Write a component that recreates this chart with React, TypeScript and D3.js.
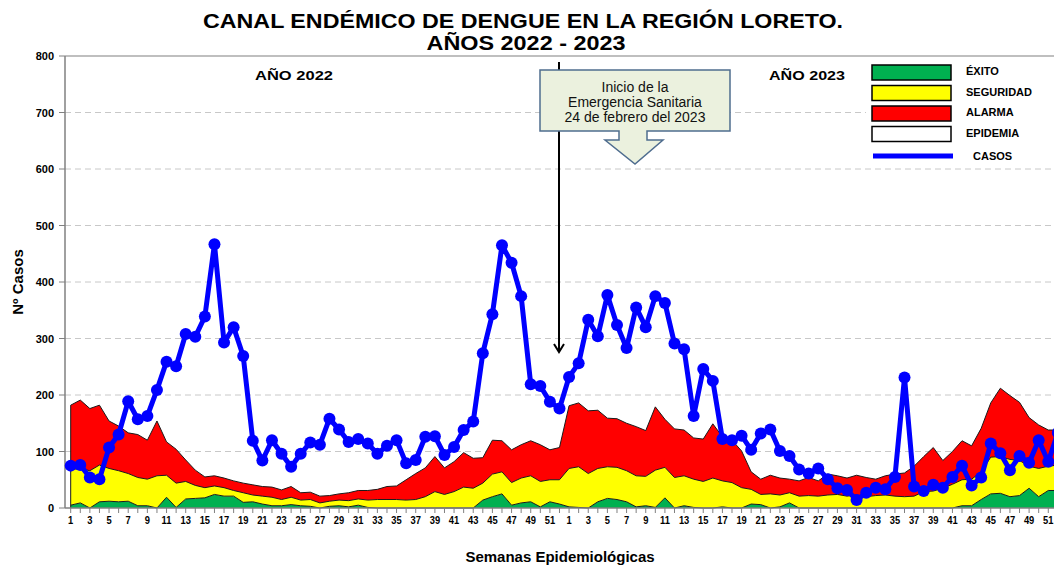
import React from "react";
import * as d3 from "d3";

const weekLabels2022 = d3.range(1, 53);
const weekLabels2023 = d3.range(1, 53);

const casos2022 = [75,76,54,51,107,130,189,157,163,209,259,251,308,303,339,467,293,320,269,119,84,120,96,73,96,116,112,158,139,117,122,114,96,110,120,79,85,126,127,94,108,138,153,274,343,465,434,375,219,216,188,176];
const casos2023 = [232,256,333,304,377,324,283,355,320,375,363,291,281,163,246,225,122,120,128,103,132,139,101,92,68,61,70,51,35,32,14,27,36,33,55,231,38,30,41,36,55,75,40,54,114,97,67,92,80,120,82,133];

const exito2022 = [5,9,0,11,12,11,12,4,4,0,19,1,16,17,18,24,21,21,10,11,7,4,4,6,4,3,0,3,4,2,5,1,0,0,0,0,0,0,0,0,0,0,0,14,20,25,5,9,11,2,11,7];
const exito2023 = [2,1,0,11,17,15,11,2,4,1,18,0,4,1,0,0,2,0,0,7,6,0,2,9,0,0,0,0,0,0,0,0,0,0,0,0,0,0,0,0,0,4,4,15,25,26,20,22,35,20,31,31];

const seguridad2022 = [68,70,66,76,70,66,61,54,51,57,58,44,47,40,36,39,36,31,27,23,21,19,15,19,14,15,9,12,14,13,16,14,15,15,15,14,15,20,29,24,29,37,35,44,60,64,45,53,57,47,50,50];
const seguridad2023 = [70,73,61,70,73,72,66,57,56,67,72,54,57,51,47,53,48,45,36,33,24,25,23,27,21,22,21,23,24,21,23,20,22,23,21,20,21,29,30,35,42,50,51,64,90,91,86,84,74,70,74,76];

const alarma2022 = [182,191,176,182,154,145,133,130,120,154,117,104,85,67,55,57,53,48,44,41,38,37,32,38,27,28,21,22,25,27,31,31,33,38,39,50,61,71,91,71,82,98,88,89,120,119,103,112,119,112,103,107];
const alarma2023 = [181,186,172,173,159,158,150,144,137,179,157,140,138,124,122,149,126,120,101,64,51,58,53,51,48,54,48,60,57,53,58,54,51,57,60,62,74,91,107,84,100,119,110,141,186,212,199,187,160,147,138,138];

const yTicks = [0, 100, 200, 300, 400, 500, 600, 700, 800];
const legendItems = [
  { label: "ÉXITO", color: "#00B050" },
  { label: "SEGURIDAD", color: "#FFFF00" },
  { label: "ALARMA", color: "#FF0000" },
  { label: "EPIDEMIA", color: "#FFFFFF" },
];
const calloutLines = ["Inicio de la", "Emergencia Sanitaria", "24 de febrero del 2023"];

const labels = [...weekLabels2022, ...weekLabels2023];
const casos = [...casos2022, ...casos2023];
const exito = [...exito2022, ...exito2023];
const seguridad = [...seguridad2022, ...seguridad2023];
const alarma = [...alarma2022, ...alarma2023];

const W = 1054;
const H = 567;
const FONT = "Arial, 'Liberation Sans', Helvetica, sans-serif";

export default function App() {
  const n = labels.length;
  const x = d3.scaleLinear().domain([0, n - 1]).range([70.7, 70.7 + (n - 1) * 9.584]);
  const y = d3.scaleLinear().domain([0, 800]).range([508, 56]);
  const idx = d3.range(n);

  const band = (lo: (i: number) => number, hi: (i: number) => number) =>
    d3.area<number>().x((i) => x(i)).y0((i) => y(lo(i))).y1((i) => y(hi(i)))(idx) || "";
  const topLine = (hi: (i: number) => number) =>
    d3.line<number>().x((i) => x(i)).y((i) => y(hi(i)))(idx) || "";
  const casosLine = d3.line<number>().x((i) => x(i)).y((i) => y(casos[i]))(idx) || "";

  const arrowX = 559;

  return (
    <svg width={W} height={H} style={{ position: "absolute", left: 0, top: 0, background: "#fff" }} fontFamily={FONT}>
      <rect x={0} y={0} width={W} height={H} fill="#fff" />
      {/* title */}
      <text x={523} y={28} textAnchor="middle" fontSize={21} fontWeight="bold" textLength={640} lengthAdjust="spacingAndGlyphs">
        CANAL ENDÉMICO DE DENGUE EN LA REGIÓN LORETO.
      </text>
      <text x={526} y={50} textAnchor="middle" fontSize={21} fontWeight="bold" textLength={199} lengthAdjust="spacingAndGlyphs">
        AÑOS 2022 - 2023
      </text>

      {/* grid */}
      {yTicks.filter((t) => t > 0 && t < 800).map((t) => (
        <line key={t} x1={65} x2={W} y1={y(t)} y2={y(t)} stroke="#c8c8c8" strokeWidth={1} strokeDasharray="6,4" />
      ))}
      <line x1={65} x2={W} y1={y(800)} y2={y(800)} stroke="#808080" strokeWidth={1.2} />

      {/* bands */}
      <path d={band(() => 0, (i) => exito[i])} fill="#00B050" />
      <path d={band((i) => exito[i], (i) => seguridad[i])} fill="#FFFF00" />
      <path d={band((i) => seguridad[i], (i) => alarma[i])} fill="#FF0000" />
      <path d={topLine((i) => exito[i])} fill="none" stroke="#1a1a1a" strokeWidth={1} />
      <path d={topLine((i) => seguridad[i])} fill="none" stroke="#1a1a1a" strokeWidth={1} />
      <path d={topLine((i) => alarma[i])} fill="none" stroke="#1a1a1a" strokeWidth={1} />
      <line x1={x(0)} x2={x(0)} y1={y(0)} y2={y(alarma[0])} stroke="#1a1a1a" strokeWidth={1} />

      {/* axes */}
      <line x1={65} x2={65} y1={y(800)} y2={y(0)} stroke="#808080" strokeWidth={1.5} />
      <line x1={65} x2={W} y1={y(0)} y2={y(0)} stroke="#808080" strokeWidth={1.5} />
      {yTicks.map((t) => (
        <g key={t}>
          <line x1={59} x2={65} y1={y(t)} y2={y(t)} stroke="#808080" strokeWidth={1} />
          <text x={54} y={y(t) + 4} textAnchor="end" fontSize={11} fontWeight="bold">{t}</text>
        </g>
      ))}
      {idx.map((i) => (
        <line key={i} x1={x(i)} x2={x(i)} y1={y(0)} y2={y(0) + 5} stroke="#808080" strokeWidth={1} />
      ))}
      {idx.filter((i) => labels[i] % 2 === 1).map((i) => (
        <text key={i} transform={`translate(${x(i)},${524}) scale(0.85,1)`} textAnchor="middle" fontSize={11} fontWeight="bold">
          {labels[i]}
        </text>
      ))}
      <text x={560} y={562} textAnchor="middle" fontSize={15} fontWeight="bold">Semanas Epidemiológicas</text>
      <text transform={`translate(23,282) rotate(-90)`} textAnchor="middle" fontSize={15} fontWeight="bold">Nº Casos</text>

      {/* year labels */}
      <text x={294} y={80} textAnchor="middle" fontSize={13} fontWeight="bold" textLength={78} lengthAdjust="spacingAndGlyphs">AÑO 2022</text>
      <text x={807} y={80} textAnchor="middle" fontSize={13} fontWeight="bold" textLength={76} lengthAdjust="spacingAndGlyphs">AÑO 2023</text>

      {/* legend */}
      <rect x={866} y={58} width={W - 866} height={107} fill="#fff" />
      {legendItems.map((d, k) => (
        <g key={d.label}>
          <rect x={872} y={65 + k * 20.5} width={79} height={15} fill={d.color} stroke="#000" strokeWidth={1.5} />
          <text x={966} y={75 + k * 20.5} fontSize={11} fontWeight="bold">{d.label}</text>
        </g>
      ))}
      <line x1={873} x2={953} y1={156} y2={156} stroke="#0000FF" strokeWidth={5} />
      <text x={973} y={160} fontSize={11} fontWeight="bold">CASOS</text>

      {/* callout */}
      <line x1={arrowX} x2={arrowX} y1={62} y2={352} stroke="#000" strokeWidth={2} />
      <path d={`M${arrowX - 5},${344} L${arrowX},${352} L${arrowX + 5},${344}`} fill="none" stroke="#000" strokeWidth={2} />
      <path
        d="M540,70 L730,70 L730,131 L647,131 L647,140 L663,140 L635,164 L605,140 L619,140 L619,131 L540,131 Z"
        fill="#EBF1DE"
        stroke="#4F6D8F"
        strokeWidth={1.5}
      />
      {calloutLines.map((s, k) => (
        <text key={k} x={635} y={92 + k * 15} textAnchor="middle" fontSize={14} fill="#111">{s}</text>
      ))}

      {/* casos */}
      <path d={casosLine} fill="none" stroke="#0000FF" strokeWidth={5} strokeLinejoin="round" />
      {idx.map((i) => (
        <circle key={i} cx={x(i)} cy={y(casos[i])} r={6} fill="#0000FF" />
      ))}
    </svg>
  );
}
